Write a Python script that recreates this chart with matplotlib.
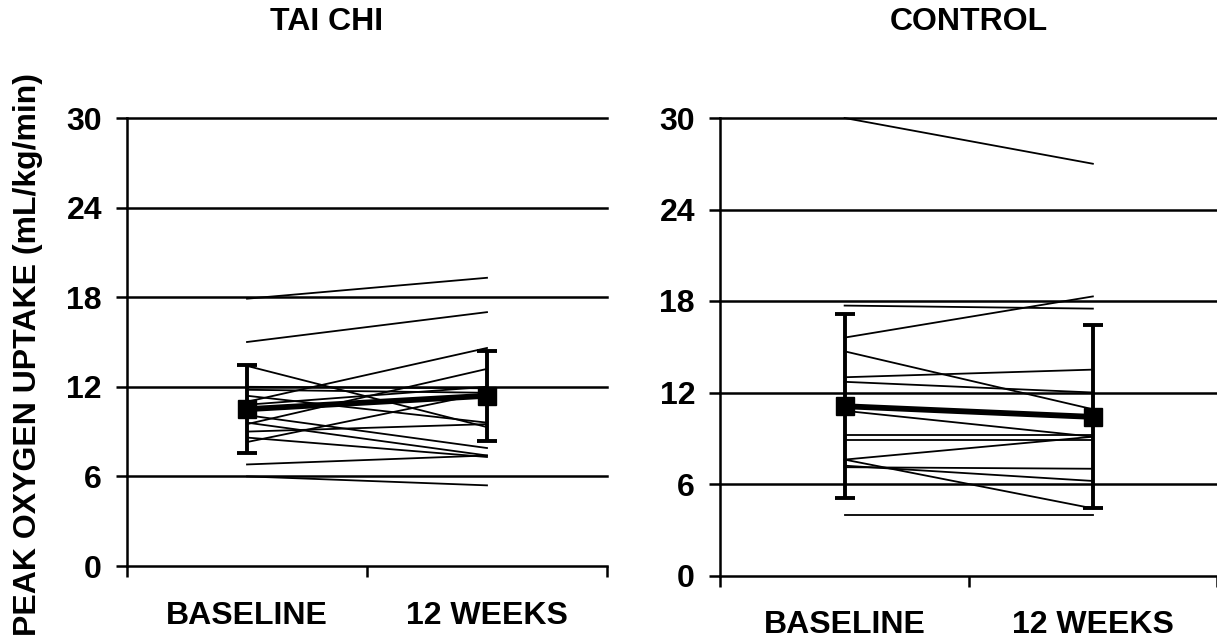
import matplotlib.pyplot as plt

plt.rcParams['font.family'] = ['Liberation Sans', 'DejaVu Sans']
plt.rcParams['font.weight'] = 'bold'

categories = ["BASELINE", "12 WEEKS"]
yticks = [0, 6, 12, 18, 24, 30]

# Tai chi: chaque sujet (baseline, 12 semaines)
taichi_base = [17.9, 15.0, 13.4, 11.0, 9.5, 8.3, 12.0, 11.8, 11.4, 10.1, 9.6, 9.0, 8.6, 6.8, 6.0, 10.8]
taichi_12wk = [19.3, 17.0, 9.3, 14.6, 13.2, 11.6, 11.9, 11.6, 9.6, 7.9, 7.4, 9.5, 7.3, 7.4, 5.4, 12.0]
taichi_mean = [10.5, 11.4]
taichi_sd = [2.95, 3.0]

# Controle
control_base = [30.0, 17.7, 15.6, 14.7, 13.0, 12.7, 10.8, 9.2, 8.9, 7.6, 7.6, 7.1, 7.2, 4.0]
control_12wk = [27.0, 17.5, 18.3, 10.9, 13.5, 12.0, 9.1, 9.2, 8.9, 9.1, 4.4, 7.0, 6.2, 4.0]
control_mean = [11.1, 10.4]
control_sd = [6.05, 6.0]

W, H = 1217, 640
FS = 23
fig = plt.figure(figsize=(W / 100, H / 100), dpi=100)


def panel(rect, xlim, title, title_x, base, wk12, mean, sd):
    ax = fig.add_axes(rect)
    ax.set_xlim(*xlim)
    ax.set_ylim(0, 30)
    for v in yticks[1:]:
        ax.axhline(v, color='black', lw=1.8, clip_on=False, zorder=1)
    for b, w in zip(base, wk12):
        ax.plot([0, 1], [b, w], color='black', lw=1.3, zorder=2, clip_on=False)
    ax.errorbar([0, 1], mean, yerr=sd, color='black', lw=4.2, marker='s',
                markersize=13, elinewidth=2.8, capsize=7, capthick=2.8, zorder=3)
    for s in ['top', 'right']:
        ax.spines[s].set_visible(False)
    ax.spines['left'].set_linewidth(1.8)
    ax.spines['bottom'].set_linewidth(1.8)
    ax.set_yticks(yticks)
    ax.set_yticklabels([str(v) for v in yticks], fontsize=FS, fontweight='bold')
    ax.tick_params(axis='y', length=8, width=1.8, pad=10)
    ax.set_xticks([-0.5, 0.5, 1.5])
    ax.set_xticklabels([])
    ax.tick_params(axis='x', which='major', length=8, width=1.8)
    ax.set_xticks([0, 1], minor=True)
    ax.set_xticklabels(categories, minor=True, fontsize=FS, fontweight='bold')
    ax.tick_params(axis='x', which='minor', length=0, pad=25)
    fig.text(title_x / W, 1 - 22 / H, title, ha='center', va='center',
             fontsize=FS, fontweight='bold')
    return ax


panel([127 / W, 1 - 566 / H, 480 / W, 448 / H], (-0.5, 1.5), "TAI CHI", 327,
      taichi_base, taichi_12wk, taichi_mean, taichi_sd)
panel([720 / W, 1 - 575.5 / H, (W - 720) / W, 457.5 / H], (-0.502, 1.462), "CONTROL", 969,
      control_base, control_12wk, control_mean, control_sd)

fig.text(28 / W, 1 - 355 / H, "PEAK OXYGEN UPTAKE (mL/kg/min)", rotation=90,
         ha='center', va='center', fontsize=FS, fontweight='bold')

fig.savefig("out.png", dpi=100)
